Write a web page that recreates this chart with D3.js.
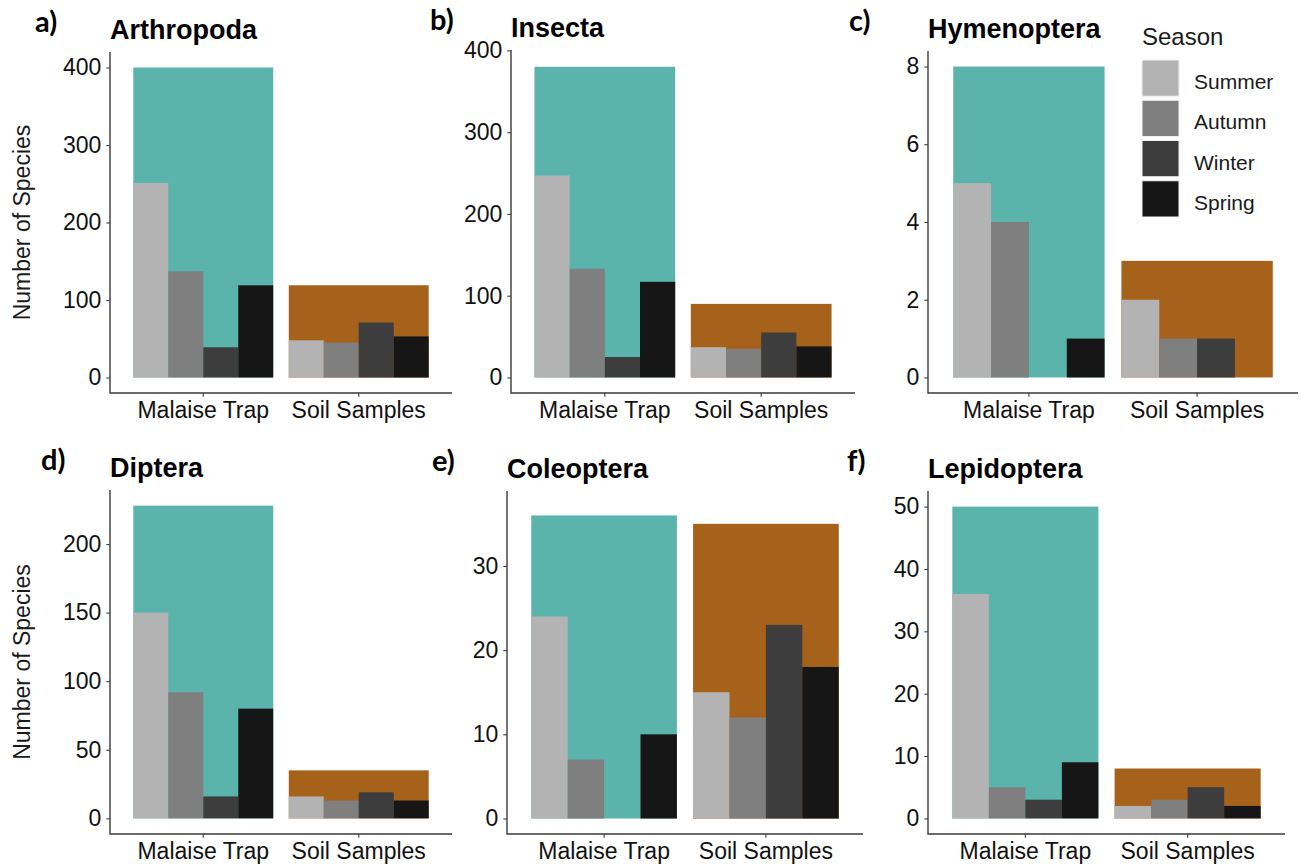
<!DOCTYPE html>
<html>
<head>
<meta charset="utf-8">
<script src="https://cdn.jsdelivr.net/npm/d3@7"></script>
<style>
  html, body { margin: 0; padding: 0; background: #fff; }
  svg text { font-family: "Liberation Sans", Arial, sans-serif; }
</style>
</head>
<body>
<div id="chart"></div>
<script>
// values
const taxa = ["Arthropoda", "Insecta", "Hymenoptera", "Diptera", "Coleoptera", "Lepidoptera"];
const panelTags = ["a)", "b)", "c)", "d)", "e)", "f)"];
const methods = ["Malaise Trap", "Soil Samples"];
const seasons = ["Summer", "Autumn", "Winter", "Spring"];

const totalMalaise = [400, 380, 8, 228, 36, 50];
const totalSoil = [119, 90, 3, 35, 35, 8];

const malaiseBySeason = [
    [251, 137, 39, 119],
    [247, 133, 25, 117],
    [5, 4, 0, 1],
    [150, 92, 16, 80],
    [24, 7, 0, 10],
    [36, 5, 3, 9]
];
const soilBySeason = [
    [48, 45, 71, 53],
    [37, 35, 55, 38],
    [2, 1, 1, 0],
    [16, 13, 19, 13],
    [15, 12, 23, 18],
    [2, 3, 5, 2]
];

const yTicks = [
    [0, 100, 200, 300, 400],
    [0, 100, 200, 300, 400],
    [0, 2, 4, 6, 8],
    [0, 50, 100, 150, 200],
    [0, 10, 20, 30],
    [0, 10, 20, 30, 40, 50]
];
const yLimits = [
    [-20, 420],
    [-19, 400.5],
    [-0.4, 8.4],
    [-11.4, 239.4],
    [-1.84, 38.9],
    [-2.5, 52.5]
];

const methodColors = ["#5ab4ac", "#a6611a"];
const seasonColors = ["#b3b3b3", "#7f7f7f", "#3d3d3d", "#161616"];

// plot boxes (axis frame) for each panel
const boxes = [
    { x0: 110, x1: 452, y0: 52, y1: 393 },
    { x0: 511, x1: 855, y0: 50, y1: 393 },
    { x0: 928, x1: 1298, y0: 51, y1: 393 },
    { x0: 110, x1: 452, y0: 490, y1: 834 },
    { x0: 507, x1: 863, y0: 491, y1: 834 },
    { x0: 928, x1: 1285, y0: 491, y1: 834 }
];
const tagX = [35, 430, 849, 41, 432, 847];

const svg = d3.select("#chart").append("svg")
    .attr("width", 1301).attr("height", 864)
    .style("background", "#fff");

const axisColor = "#3a3a3a";

taxa.forEach((name, i) => {
    const b = boxes[i];
    const g = svg.append("g");

    const x = d3.scaleBand().domain(methods)
        .range([b.x0, b.x1])
        .paddingInner(0.1).paddingOuter(0.15);
    const xs = d3.scaleBand().domain(seasons).range([0, x.bandwidth()]).padding(0);
    const y = d3.scaleLinear().domain(yLimits[i]).range([b.y1, b.y0]);

    const totals = [totalMalaise[i], totalSoil[i]];
    const bySeason = [malaiseBySeason[i], soilBySeason[i]];

    methods.forEach((m, j) => {
        g.append("rect")
            .attr("x", x(m)).attr("width", x.bandwidth())
            .attr("y", y(totals[j])).attr("height", y(0) - y(totals[j]))
            .attr("fill", methodColors[j]);

        seasons.forEach((s, k) => {
            const v = bySeason[j][k];
            if (!v) return;
            g.append("rect")
                .attr("x", x(m) + xs(s)).attr("width", xs.bandwidth())
                .attr("y", y(v)).attr("height", y(0) - y(v))
                .attr("fill", seasonColors[k]);
        });
    });

    // y axis
    const yAxis = g.append("g")
        .attr("transform", `translate(${b.x0},0)`)
        .call(d3.axisLeft(y).tickValues(yTicks[i]).tickSize(3.7).tickPadding(5).tickFormat(d3.format("d")));
    yAxis.select(".domain").remove();
    yAxis.selectAll(".tick line").attr("stroke", axisColor).attr("stroke-width", 1.1);
    yAxis.selectAll(".tick text")
        .attr("fill", "#111").style("font-size", "23px");

    // x axis
    const xAxis = g.append("g")
        .attr("transform", `translate(0,${b.y1})`)
        .call(d3.axisBottom(x).tickSize(3.7).tickPadding(5));
    xAxis.select(".domain").remove();
    xAxis.selectAll(".tick line").attr("stroke", axisColor).attr("stroke-width", 1.1);
    xAxis.selectAll(".tick text")
        .attr("fill", "#111").style("font-size", "23px");

    // axis lines (L shape)
    g.append("path")
        .attr("d", `M${b.x0},${b.y0}V${b.y1}H${b.x1}`)
        .attr("fill", "none").attr("stroke", axisColor).attr("stroke-width", 1.4);

    // title and tag
    g.append("text")
        .attr("x", b.x0).attr("y", b.y0 - 13)
        .style("font-size", "27px").style("font-weight", "bold")
        .attr("fill", "#000")
        .text(name);

    g.append("text")
        .attr("x", tagX[i]).attr("y", b.y0 - 20)
        .style("font-family", "Lato, 'Open Sans', sans-serif")
        .style("font-size", "29px").style("font-weight", "bold")
        .attr("fill", "#000")
        .text(panelTags[i]);

    if (i % 3 === 0) {
        g.append("text")
            .attr("transform", `translate(30,${(b.y0 + b.y1) / 2}) rotate(-90)`)
            .attr("text-anchor", "middle")
            .style("font-size", "23px")
            .attr("fill", "#1a1a1a")
            .text("Number of Species");
    }
});

// legend
const legend = svg.append("g").attr("transform", "translate(1142,0)");
legend.append("text")
    .attr("x", 0).attr("y", 45)
    .style("font-size", "24px").attr("fill", "#1a1a1a")
    .text("Season");

const keyY = d3.scaleBand().domain(seasons).range([60, 217]).paddingInner(0.1).paddingOuter(0);
seasons.forEach((s, k) => {
    legend.append("rect")
        .attr("x", 0).attr("y", keyY(s))
        .attr("width", 37).attr("height", keyY.bandwidth())
        .attr("fill", seasonColors[k])
        .attr("stroke", "#f2f2f2").attr("stroke-width", 1);
    legend.append("text")
        .attr("x", 52).attr("y", keyY(s) + keyY.bandwidth() / 2 + 11)
        .style("font-size", "21px").attr("fill", "#1a1a1a")
        .text(s);
});
</script>
</body>
</html>
